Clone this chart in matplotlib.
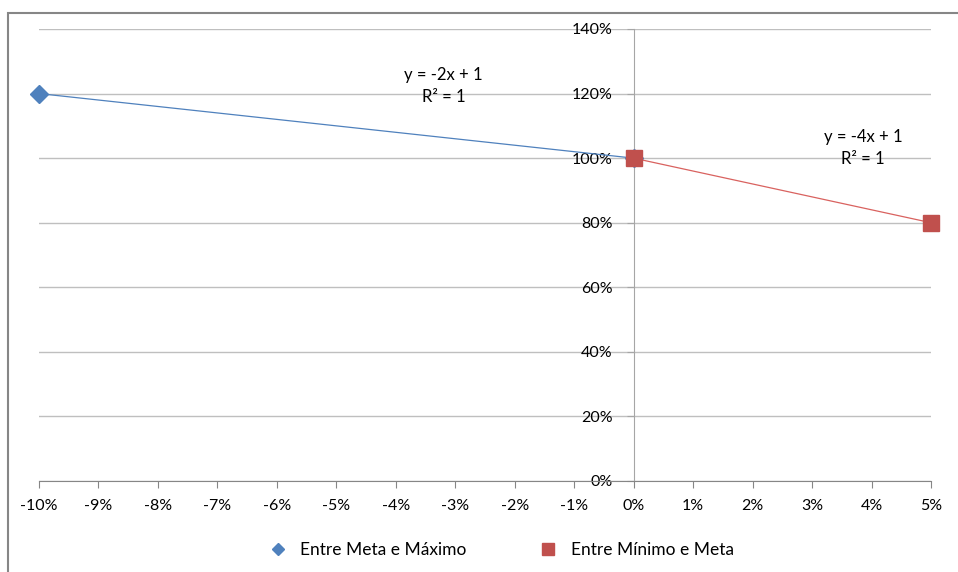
import numpy as np
import matplotlib
matplotlib.use('Agg')
import matplotlib.pyplot as plt
from matplotlib.patches import Rectangle
from matplotlib.ticker import PercentFormatter, MultipleLocator

plt.rcParams['font.family'] = ['Lato', 'DejaVu Sans']
plt.rcParams['axes.unicode_minus'] = False

# series data
x_meta_max = [-0.10, 0.0]
y_meta_max = [1.20, 1.00]
x_min_meta = [0.0, 0.05]
y_min_meta = [1.00, 0.80]

label_meta_max = 'Entre Meta e Máximo'
label_min_meta = 'Entre Mínimo e Meta'
blue = '#4F81BD'
red = '#C0504D'

fig = plt.figure(figsize=(9.58, 5.72), dpi=100)
ax = fig.add_axes([39/958, 1 - 481/572, (931 - 39)/958, (481 - 29)/572])

# chart area border
fig.patches.append(Rectangle((8/958, -0.05), 1.2, 1 - 13/572 + 0.05, transform=fig.transFigure,
                             fill=False, edgecolor='#868686', linewidth=1.5))

# linear trendlines
def trend(xs, ys):
    m, b = np.polyfit(xs, ys, 1)
    xx = np.array([min(xs), max(xs)])
    return xx, m * xx + b, m, b

tx, ty, m1, b1 = trend(x_meta_max, y_meta_max)
ax.plot(tx, ty, color=blue, lw=0.9, zorder=3)
tx, ty, m2, b2 = trend(x_min_meta, y_min_meta)
ax.plot(tx, ty, color='#D9625F', lw=0.9, zorder=3)

ax.plot(x_meta_max, y_meta_max, 'D', color=blue, ms=9, ls='none', zorder=4,
        label=label_meta_max, clip_on=False)
ax.plot(x_min_meta, y_min_meta, 's', color=red, ms=11.5, ls='none', zorder=5,
        label=label_min_meta, clip_on=False)

ax.text(-0.032, 1.258, 'y = %.0fx + %.0f' % (m1, b1), ha='center', va='center', fontsize=12)
ax.text(-0.032, 1.190, 'R² = 1', ha='center', va='center', fontsize=12)
ax.text(0.0386, 1.066, 'y = %.0fx + %.0f' % (m2, b2), ha='center', va='center', fontsize=12)
ax.text(0.0386, 0.998, 'R² = 1', ha='center', va='center', fontsize=12)

ax.set_xlim(-0.10, 0.05)
ax.set_ylim(0, 1.4)
ax.xaxis.set_major_locator(MultipleLocator(0.01))
ax.yaxis.set_major_locator(MultipleLocator(0.2))
ax.xaxis.set_major_formatter(PercentFormatter(1.0, decimals=0))
ax.yaxis.set_major_formatter(PercentFormatter(1.0, decimals=0))

ax.grid(axis='y', color='#BFBFBF', lw=1)
ax.set_axisbelow(True)
for s in ['top', 'right']:
    ax.spines[s].set_visible(False)
ax.spines['left'].set_position(('data', 0))
ax.spines['left'].set_color('#A6A6A6')
ax.spines['bottom'].set_color('#868686')
ax.tick_params(axis='x', length=5, color='#868686', labelsize=11.5, pad=8)
ax.tick_params(axis='y', length=5, color='#A6A6A6', labelsize=11.5, pad=10)
ax.patch.set_alpha(0)

fig.legend(loc='center', bbox_to_anchor=(0.5235, 1 - 550/572), ncol=2, frameon=False,
           fontsize=12.5, handletextpad=0.8, columnspacing=4.2, handlelength=1.0,
           markerscale=0.7)

fig.savefig('out.png', dpi=100)
